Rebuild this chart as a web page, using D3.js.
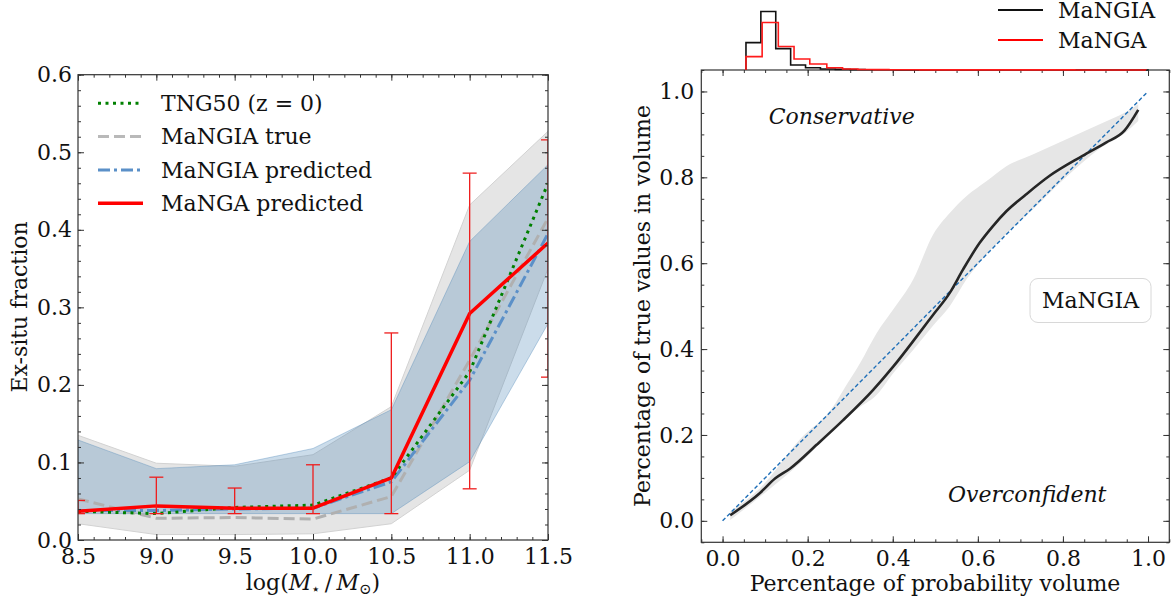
<!DOCTYPE html>
<html>
<head>
<meta charset="utf-8">
<script src="https://cdn.jsdelivr.net/npm/d3@7"></script>
<style>
  body { margin: 0; background: #fff; }
  svg { display: block; font-family: "DejaVu Serif", serif; }
  .tick text { font-family: "DejaVu Serif", serif; font-size: 22px; fill: #111; }
  .tick line { stroke: #333; stroke-width: 1; }
</style>
</head>
<body>
<div id="chart"></div>
<script>
// ---- left panel data: ex-situ fraction vs stellar mass
const mass = [8.5, 9.0, 9.5, 10.0, 10.5, 11.0, 11.5];
const tng50 = [0.037, 0.034, 0.042, 0.045, 0.080, 0.217, 0.460];
const mangiaTrue = [0.053, 0.028, 0.029, 0.027, 0.056, 0.232, 0.415];
const mangiaPred = [0.038, 0.038, 0.040, 0.041, 0.075, 0.206, 0.395];
const mangaPred = [0.037, 0.044, 0.041, 0.041, 0.080, 0.292, 0.383];
const mangaErrHi = [0.051, 0.081, 0.067, 0.097, 0.267, 0.473, 0.516];
const mangaErrLo = [0.034, 0.034, 0.034, 0.034, 0.034, 0.066, 0.210];
const trueBandHi = [0.135, 0.099, 0.095, 0.110, 0.172, 0.432, 0.527];
const trueBandLo = [0.021, 0.007, 0.007, 0.008, 0.021, 0.090, 0.350];
const predBandHi = [0.129, 0.092, 0.097, 0.118, 0.168, 0.385, 0.484];
const predBandLo = [0.034, 0.034, 0.034, 0.034, 0.034, 0.101, 0.279];
const leftXTicks = [8.5, 9.0, 9.5, 10.0, 10.5, 11.0, 11.5];
const leftYTicks = [0.0, 0.1, 0.2, 0.3, 0.4, 0.5, 0.6];

// ---- right panel data: coverage / calibration
const covX = [0.018, 0.088, 0.124, 0.159, 0.221, 0.284, 0.354, 0.401, 0.456, 0.495, 0.534, 0.565, 0.604, 0.635, 0.667, 0.713, 0.768, 0.846, 0.901, 0.944, 0.977];
const covY = [0.013, 0.065, 0.099, 0.122, 0.177, 0.235, 0.305, 0.359, 0.429, 0.480, 0.531, 0.585, 0.647, 0.686, 0.721, 0.760, 0.803, 0.850, 0.881, 0.908, 0.957];
const bandX = [0.018, 0.088, 0.182, 0.260, 0.284, 0.323, 0.362, 0.401, 0.448, 0.495, 0.534, 0.573, 0.620, 0.667, 0.729, 0.807, 0.885, 0.948, 0.977];
const bandHi = [0.022, 0.076, 0.190, 0.266, 0.305, 0.367, 0.437, 0.492, 0.562, 0.667, 0.717, 0.756, 0.791, 0.826, 0.853, 0.888, 0.923, 0.952, 0.970];
const bandLo = [0.002, 0.056, 0.134, 0.212, 0.235, 0.265, 0.293, 0.344, 0.398, 0.455, 0.500, 0.562, 0.620, 0.668, 0.725, 0.800, 0.866, 0.905, 0.931];
const rightTicks = [0.0, 0.2, 0.4, 0.6, 0.8, 1.0];

// histograms on top (density)
const histEdgesMangia = [0.055, 0.090, 0.125, 0.160, 0.195, 0.230, 0.265, 0.300, 0.335, 0.370, 0.405, 0.440, 0.475, 0.510, 0.545, 0.580, 0.615, 0.650, 0.685, 0.720, 0.755, 0.790, 0.825, 0.860, 0.895, 0.930, 0.965, 1.000];
const histMangia = [6.66, 14.2, 5.2, 1.22, 0.56, 0.24, 0.15, 0.10, 0.07, 0.05, 0.04, 0.03, 0.03, 0.02, 0.02, 0.02, 0.01, 0.01, 0.01, 0.01, 0.01, 0.01, 0.01, 0.01, 0.01, 0.01, 0.01];
const histEdgesManga = [0.055, 0.093, 0.131, 0.168, 0.205, 0.245, 0.282, 0.318, 0.355, 0.391, 0.428, 0.464, 0.500, 0.537, 0.573, 0.610, 0.646, 0.683, 0.719, 0.755, 0.792, 0.828, 0.865, 0.901, 0.937, 0.974, 0.995];
const histManga = [3.25, 11.55, 5.7, 2.68, 1.46, 0.56, 0.24, 0.12, 0.08, 0.06, 0.05, 0.04, 0.04, 0.03, 0.03, 0.02, 0.02, 0.02, 0.02, 0.02, 0.02, 0.01, 0.01, 0.01, 0.01, 0.01];

var width = 1174, height = 605;
var svg = d3.select("#chart").append("svg")
  .attr("width", width).attr("height", height);

var font = "DejaVu Serif, serif";
var fs = 22;

// inward ticks on all four sides, major + minor
function frame(g, x, y, box, xMajor, xMinor, yMajor, yMinor, fmt, padY) {
  var L = box.left, R = box.right, T = box.top, B = box.bottom;
  g.append("g").attr("transform", `translate(0,${B})`)
    .call(d3.axisBottom(x).tickValues(xMinor).tickSize(-3).tickFormat(""));
  g.append("g").attr("transform", `translate(0,${B})`)
    .call(d3.axisBottom(x).tickValues(xMajor).tickSize(-6).tickPadding(8).tickFormat(fmt));
  g.append("g").attr("transform", `translate(0,${T})`)
    .call(d3.axisTop(x).tickValues(xMinor).tickSize(-3).tickFormat(""));
  g.append("g").attr("transform", `translate(0,${T})`)
    .call(d3.axisTop(x).tickValues(xMajor).tickSize(-6).tickFormat(""));
  g.append("g").attr("transform", `translate(${L},0)`)
    .call(d3.axisLeft(y).tickValues(yMinor).tickSize(-3).tickFormat(""));
  g.append("g").attr("transform", `translate(${L},0)`)
    .call(d3.axisLeft(y).tickValues(yMajor).tickSize(-6).tickPadding(padY).tickFormat(d3.format(".1f")));
  g.append("g").attr("transform", `translate(${R},0)`)
    .call(d3.axisRight(y).tickValues(yMinor).tickSize(-3).tickFormat(""));
  g.append("g").attr("transform", `translate(${R},0)`)
    .call(d3.axisRight(y).tickValues(yMajor).tickSize(-6).tickFormat(""));
  g.selectAll(".domain").remove();
  g.append("rect")
    .attr("x", L).attr("y", T).attr("width", R - L).attr("height", B - T)
    .attr("fill", "none").attr("stroke", "#333").attr("stroke-width", 1.2);
}

function range(a, b, s) { return d3.range(Math.round(a / s), Math.round(b / s) + 1).map(i => +(i * s).toFixed(4)); }

// ================= LEFT PANEL =================
var lbox = {left: 78, right: 548, top: 74.7, bottom: 540};
var x1 = d3.scaleLinear().domain([8.5, 11.5]).range([lbox.left, lbox.right]);
var y1 = d3.scaleLinear().domain([0, 0.6]).range([lbox.bottom, lbox.top]);

svg.append("clipPath").attr("id", "clipL").append("rect")
  .attr("x", lbox.left).attr("y", lbox.top)
  .attr("width", lbox.right - lbox.left).attr("height", lbox.bottom - lbox.top);

var left = svg.append("g");
var plotL = left.append("g").attr("clip-path", "url(#clipL)");

var bandArea = (hi, lo) => d3.area()
  .x((d, i) => x1(mass[i])).y0((d, i) => y1(lo[i])).y1((d, i) => y1(hi[i]));

plotL.append("path").datum(mass)
  .attr("d", bandArea(trueBandHi, trueBandLo))
  .attr("fill", "#e5e5e5").attr("stroke", "#d2d2d2").attr("stroke-width", 1);
plotL.append("path").datum(mass)
  .attr("d", bandArea(predBandHi, predBandLo))
  .attr("fill", "rgba(70,130,180,0.28)").attr("stroke", "rgba(70,130,180,0.35)").attr("stroke-width", 1);

var lineOf = vals => d3.line().x((d, i) => x1(mass[i])).y((d, i) => y1(vals[i]))(mass);

plotL.append("path").attr("d", lineOf(mangiaTrue))
  .attr("fill", "none").attr("stroke", "#b0b0b0").attr("stroke-width", 3)
  .attr("stroke-dasharray", "11,5");
plotL.append("path").attr("d", lineOf(mangiaPred))
  .attr("fill", "none").attr("stroke", "#5b90c8").attr("stroke-width", 3)
  .attr("stroke-dasharray", "12,4,3,4");
plotL.append("path").attr("d", lineOf(tng50))
  .attr("fill", "none").attr("stroke", "#008000").attr("stroke-width", 3)
  .attr("stroke-dasharray", "3,4.5");
plotL.append("path").attr("d", lineOf(mangaPred))
  .attr("fill", "none").attr("stroke", "#ff0000").attr("stroke-width", 3.5)
  .attr("stroke-linejoin", "round");

// error bars
var eb = plotL.append("g").attr("stroke", "#ee1c1c").attr("stroke-width", 1.3);
mass.forEach(function(m, i) {
  var cx = x1(m);
  eb.append("line").attr("x1", cx).attr("x2", cx).attr("y1", y1(mangaErrLo[i])).attr("y2", y1(mangaErrHi[i]));
  [mangaErrLo[i], mangaErrHi[i]].forEach(function(v) {
    eb.append("line").attr("x1", cx - 7).attr("x2", cx + 7).attr("y1", y1(v)).attr("y2", y1(v));
  });
});

frame(left, x1, y1, lbox, leftXTicks, range(8.5, 11.5, 0.1), leftYTicks, range(0, 0.6, 0.02), d3.format(".1f"), 6);

// left legend
var legItems = [
  {label: "TNG50 (z = 0)", color: "#008000", w: 3, dash: "3,4.5"},
  {label: "MaNGIA true", color: "#b9b9b9", w: 3, dash: "11,5"},
  {label: "MaNGIA predicted", color: "#5b90c8", w: 3, dash: "12,4,3,4"},
  {label: "MaNGA predicted", color: "#ff0000", w: 3.5, dash: null}
];
var leg = left.append("g");
legItems.forEach(function(d, i) {
  var yy = 103.3 + i * 33.3;
  leg.append("line").attr("x1", 98).attr("x2", 143).attr("y1", yy).attr("y2", yy)
    .attr("stroke", d.color).attr("stroke-width", d.w).attr("stroke-dasharray", d.dash);
  leg.append("text").attr("x", 161).attr("y", yy).attr("dy", "0.35em")
    .attr("font-family", font).attr("font-size", fs).attr("fill", "#111").text(d.label);
});

// left axis labels
left.append("text")
  .attr("transform", "translate(27,307) rotate(-90)")
  .attr("text-anchor", "middle").attr("font-family", font).attr("font-size", fs).attr("fill", "#111")
  .text("Ex-situ fraction");

var xl = left.append("text").attr("x", 313).attr("y", 590)
  .attr("text-anchor", "middle").attr("font-family", font).attr("font-size", fs).attr("fill", "#111");
xl.append("tspan").text("log(");
xl.append("tspan").attr("font-style", "italic").text("M");
xl.append("tspan").attr("font-size", 15).attr("dy", 4).text("\u22C6");
xl.append("tspan").attr("dy", -4).text("\u2009/\u2009");
xl.append("tspan").attr("font-style", "italic").text("M");
xl.append("tspan").attr("font-size", 15).attr("dy", 4).text("\u2299");
xl.append("tspan").attr("dy", -4).text(")");

// ================= RIGHT PANEL =================
var rbox = {left: 701.3, right: 1169.3, top: 70, bottom: 542.3};
var x2 = d3.scaleLinear().domain([-0.05, 1.05]).range([rbox.left, rbox.right]);
var y2 = d3.scaleLinear().domain([-0.05, 1.05]).range([rbox.bottom, rbox.top]);

svg.append("clipPath").attr("id", "clipR").append("rect")
  .attr("x", rbox.left).attr("y", rbox.top)
  .attr("width", rbox.right - rbox.left).attr("height", rbox.bottom - rbox.top);

var right = svg.append("g");
var plotR = right.append("g").attr("clip-path", "url(#clipR)");

plotR.append("path").datum(bandX)
  .attr("d", d3.area().x((d) => x2(d)).y0((d, i) => y2(bandLo[i])).y1((d, i) => y2(bandHi[i])).curve(d3.curveMonotoneX))
  .attr("fill", "#e6e6e6");

plotR.append("path").datum([0, 1])
  .attr("d", d3.line().x(d => x2(d)).y(d => y2(d)))
  .attr("stroke", "#1f6fb8").attr("stroke-width", 1.4).attr("stroke-dasharray", "4,2.5").attr("fill", "none");

plotR.append("path").datum(covX)
  .attr("d", d3.line().x(d => x2(d)).y((d, i) => y2(covY[i])).curve(d3.curveMonotoneX))
  .attr("stroke", "#262626").attr("stroke-width", 2.6).attr("fill", "none");

frame(right, x2, y2, rbox, rightTicks, range(-0.05, 1.05, 0.05), rightTicks, range(-0.05, 1.05, 0.05), d3.format(".1f"), 7);

right.append("text").attr("x", x2(0.28)).attr("y", y2(0.943)).attr("dy", "0.35em")
  .attr("text-anchor", "middle").attr("font-family", font).attr("font-style", "italic")
  .attr("font-size", fs).attr("fill", "#111").text("Conservative");
right.append("text").attr("x", x2(0.716)).attr("y", y2(0.062)).attr("dy", "0.35em")
  .attr("text-anchor", "middle").attr("font-family", font).attr("font-style", "italic")
  .attr("font-size", fs).attr("fill", "#111").text("Overconfident");

right.append("rect").attr("x", 1030).attr("y", 278.5).attr("width", 121).attr("height", 44).attr("rx", 8)
  .attr("fill", "rgba(255,255,255,0.8)").attr("stroke", "#d8d8d8").attr("stroke-width", 1);
right.append("text").attr("x", 1090.5).attr("y", 300.5).attr("dy", "0.35em")
  .attr("text-anchor", "middle").attr("font-family", font).attr("font-size", fs).attr("fill", "#111").text("MaNGIA");

right.append("text")
  .attr("transform", "translate(650,306) rotate(-90)")
  .attr("text-anchor", "middle").attr("font-family", font).attr("font-size", fs).attr("fill", "#111")
  .text("Percentage of true values in volume");
right.append("text").attr("x", 935).attr("y", 591)
  .attr("text-anchor", "middle").attr("font-family", font).attr("font-size", fs).attr("fill", "#111")
  .text("Percentage of probability volume");

// top histograms
var yh = d3.scaleLinear().domain([0, 17]).range([70, 0]);
function stepPts(edges, vals) {
  var pts = [[edges[0], 0]];
  vals.forEach(function(v, i) { pts.push([edges[i], v]); pts.push([edges[i + 1], v]); });
  pts.push([edges[edges.length - 1], 0]);
  return pts;
}
var stepLine = d3.line().x(d => x2(d[0])).y(d => yh(d[1]));
svg.append("path").attr("d", stepLine(stepPts(histEdgesMangia, histMangia)))
  .attr("fill", "none").attr("stroke", "#111").attr("stroke-width", 1.6);
svg.append("path").attr("d", stepLine(stepPts(histEdgesManga, histManga)))
  .attr("fill", "none").attr("stroke", "#ff1a1a").attr("stroke-width", 1.6);

// top-right legend
[{label: "MaNGIA", color: "#111"}, {label: "MaNGA", color: "#ff0000"}].forEach(function(d, i) {
  var yy = 10 + i * 30;
  svg.append("line").attr("x1", 998).attr("x2", 1043).attr("y1", yy).attr("y2", yy)
    .attr("stroke", d.color).attr("stroke-width", 2.2);
  svg.append("text").attr("x", 1058).attr("y", yy).attr("dy", "0.35em")
    .attr("font-family", font).attr("font-size", fs).attr("fill", "#111").text(d.label);
});
</script>
</body>
</html>
